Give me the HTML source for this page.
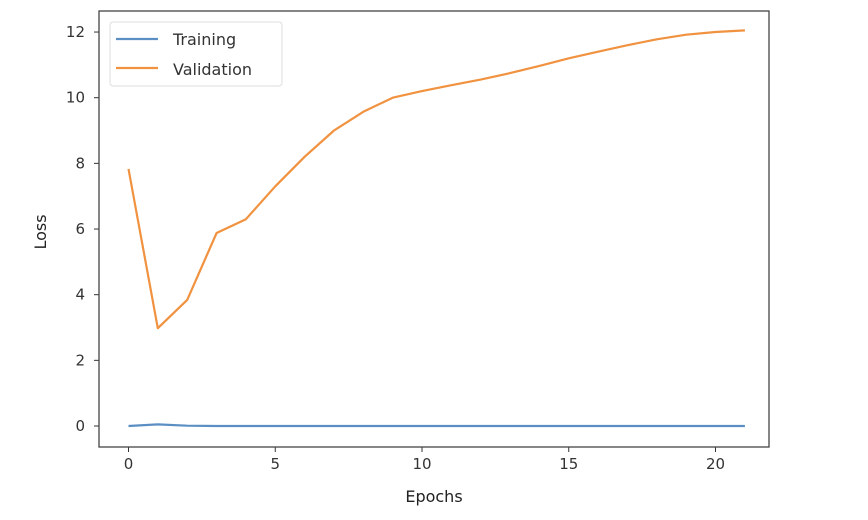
<!DOCTYPE html>
<html><head><meta charset="utf-8"><style>
body{margin:0;background:#fff;}
svg{display:block;font-family:"DejaVu Sans","Liberation Sans",sans-serif;}
</style></head><body>
<svg id="chart" width="868" height="520">
<g id="plot"></g>
</svg>
<script>
const epochs=[0,1,2,3,4,5,6,7,8,9,10,11,12,13,14,15,16,17,18,19,20,21];
const trainingLoss=[0.0,0.05,0.01,0.0,0.0,0.0,0.0,0.0,0.0,0.0,0.0,0.0,0.0,0.0,0.0,0.0,0.0,0.0,0.0,0.0,0.0,0.0];
const validationLoss=[7.83,2.98,3.84,5.88,6.3,7.3,8.2,9.0,9.57,10.0,10.2,10.38,10.55,10.75,10.97,11.2,11.4,11.6,11.78,11.92,12.0,12.05];
const xTicks=[0,5,10,15,20];
const yTicks=[0,2,4,6,8,10,12];
const NS="http://www.w3.org/2000/svg";
const L=99,R=769,T=11,B=447;
const xs=v=>128.5+v*29.35;
const ys=v=>426-v*32.83;
const g=document.getElementById('plot');
function mk(t,a,p){const e=document.createElementNS(NS,t);for(const k in a)e.setAttribute(k,a[k]);(p||g).appendChild(e);return e;}
xTicks.forEach(v=>{
 const t=mk('line',{x1:xs(v),x2:xs(v),y1:B,y2:B+5,stroke:'#333','stroke-width':1});
 
 
 const l=mk('text',{x:xs(v),y:B+22,'text-anchor':'middle','font-size':15,fill:'#333'});
 l.textContent=v;
 
 
});
yTicks.forEach(v=>{
 const t=mk('line',{x1:L-5,x2:L,y1:ys(v),y2:ys(v),stroke:'#333','stroke-width':1});
 
 
 const l=mk('text',{x:L-14,y:ys(v)+5,'text-anchor':'end','font-size':15,fill:'#333'});
 l.textContent=v;
 
 
});
function series(vals,color,name){
 const d=vals.map((v,i)=>(i?'L':'M')+xs(epochs[i]).toFixed(1)+','+ys(v).toFixed(1)).join(' ');
 const p=mk('path',{d:d,fill:'none',stroke:color,'stroke-width':2.2,'stroke-linejoin':'round'});
 
 
}
series(trainingLoss,'#5b8fc4','training-line');
series(validationLoss,'#f0923f','validation-line');
const f=mk('rect',{x:L,y:T,width:R-L,height:B-T,fill:'none',stroke:'#444','stroke-width':1.3});


</script>
<script>
const s=document.getElementById('chart');
function add(t,a,txt,name){const e=document.createElementNS("http://www.w3.org/2000/svg",t);for(const k in a)e.setAttribute(k,a[k]);if(txt)e.textContent=txt;


s.appendChild(e);return e;}
add('text',{x:434,y:502,'text-anchor':'middle','font-size':16,fill:'#222'},'Epochs','x-axis-title');
add('text',{x:46,y:232,'text-anchor':'middle','font-size':16,fill:'#222',transform:'rotate(-90 46 232)'},'Loss','y-axis-title');
add('rect',{x:110,y:22,width:172,height:64,rx:3,fill:'#fff',stroke:'#ddd','stroke-width':1},null,'legend-box');
add('line',{x1:116,x2:158,y1:39,y2:39,stroke:'#5b8fc4','stroke-width':2.2},null,'legend-training-swatch');
add('text',{x:173,y:45,'font-size':16,fill:'#333'},'Training','legend-training-label');
add('line',{x1:116,x2:158,y1:68,y2:68,stroke:'#f0923f','stroke-width':2.2},null,'legend-validation-swatch');
add('text',{x:173,y:75,'font-size':16,fill:'#333'},'Validation','legend-validation-label');
</script>
</body></html>
